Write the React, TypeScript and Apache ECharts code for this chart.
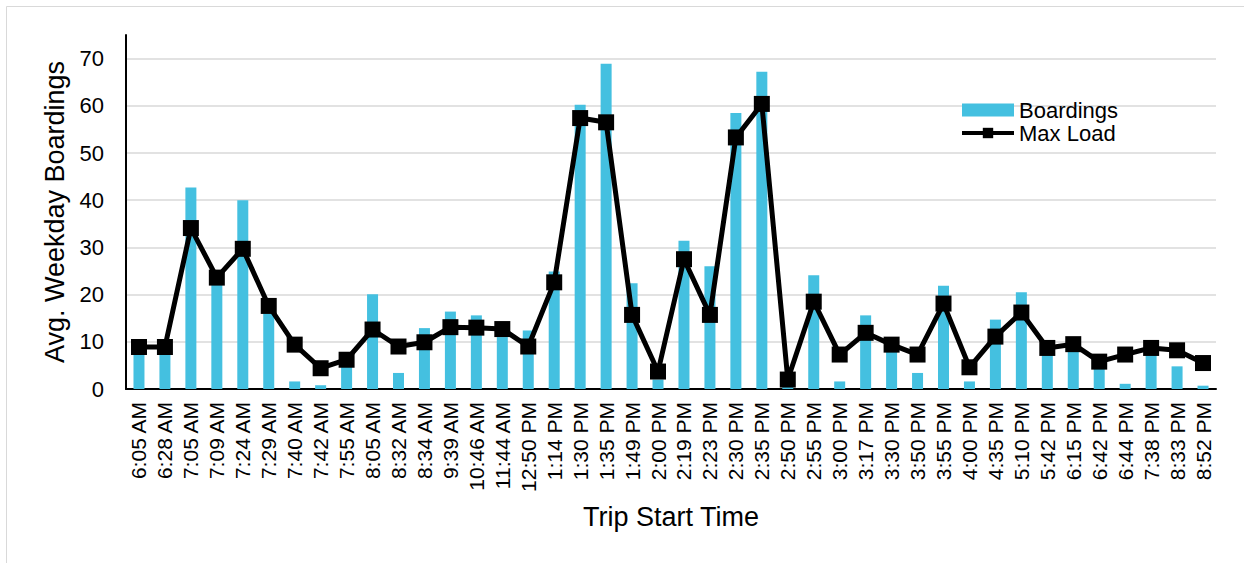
import React, { useEffect, useRef } from "react";
import * as echarts from "echarts";

const categories = [
  "6:05 AM", "6:28 AM", "7:05 AM", "7:09 AM", "7:24 AM", "7:29 AM", "7:40 AM", "7:42 AM",
  "7:55 AM", "8:05 AM", "8:32 AM", "8:34 AM", "9:39 AM", "10:46 AM", "11:44 AM", "12:50 PM",
  "1:14 PM", "1:30 PM", "1:35 PM", "1:49 PM", "2:00 PM", "2:19 PM", "2:23 PM", "2:30 PM",
  "2:35 PM", "2:50 PM", "2:55 PM", "3:00 PM", "3:17 PM", "3:30 PM", "3:50 PM", "3:55 PM",
  "4:00 PM", "4:35 PM", "5:10 PM", "5:42 PM", "6:15 PM", "6:42 PM", "6:44 PM", "7:38 PM",
  "8:33 PM", "8:52 PM",
];

const boardings = [
  7.5, 8, 42.7, 22.5, 40.0, 16, 1.6, 0.8, 5.5, 20.1, 3.4, 12.9, 16.4, 15.6, 11, 12.4,
  24.9, 60.2, 68.9, 22.4, 2, 31.4, 26.0, 58.5, 67.2, 1, 24.1, 1.6, 15.6, 8, 3.4, 21.9,
  1.6, 14.7, 20.5, 7.5, 8, 4.8, 1.1, 8, 4.8, 0.7,
];

const maxLoad = [
  8.9, 8.9, 34.1, 23.6, 29.7, 17.6, 9.4, 4.4, 6.2, 12.6, 9.0, 9.9, 13.1, 13.0, 12.7, 9.0,
  22.6, 57.4, 56.5, 15.7, 3.7, 27.5, 15.7, 53.3, 60.4, 2.0, 18.5, 7.3, 11.9, 9.4, 7.3, 18.1,
  4.6, 11.1, 16.2, 8.7, 9.5, 5.8, 7.3, 8.7, 8.2, 5.5,
];

const FONT = "'Liberation Sans', Arial, sans-serif";

export default function App() {
  const ref = useRef<HTMLDivElement>(null);
  useEffect(() => {
    document.body.style.margin = "0";
    const chart = echarts.init(ref.current!, undefined, { renderer: "svg" });
    chart.setOption({
      animation: false,
      backgroundColor: "#ffffff",
      textStyle: { fontFamily: FONT, color: "#000" },
      graphic: [
        {
          type: "rect",
          shape: { x: 6.5, y: 6.5, width: 1300, height: 600 },
          style: { fill: "none", stroke: "#d9d9d9", lineWidth: 1 },
          silent: true,
        },
      ],
      legend: {
        orient: "vertical",
        left: 960,
        top: 99,
        itemWidth: 52,
        itemHeight: 13,
        itemGap: 1,
        padding: 0,
        textStyle: { fontSize: 22, lineHeight: 22, color: "#000", fontFamily: FONT },
        data: [
          { name: "Boardings", icon: "rect" },
          { name: "Max Load", lineStyle: { width: 4, color: "#000" } },
        ],
      },
      grid: { left: 126, right: 28, top: 35, bottom: 174, containLabel: false },
      xAxis: {
        type: "category",
        data: categories,
        name: "Trip Start Time",
        nameLocation: "middle",
        nameGap: 114,
        nameTextStyle: { fontSize: 27, color: "#000", fontFamily: FONT },
        axisLine: { show: true, lineStyle: { color: "#000", width: 2 } },
        axisTick: { show: false },
        axisLabel: {
          interval: 0,
          rotate: 90,
          fontSize: 21,
          color: "#000",
          margin: 13,
          fontFamily: FONT,
        },
      },
      yAxis: {
        type: "value",
        min: 0,
        max: 75,
        interval: 10,
        name: "Avg. Weekday Boardings",
        nameLocation: "middle",
        nameGap: 52,
        nameTextStyle: { fontSize: 27, color: "#000", fontFamily: FONT },
        axisLine: { show: true, lineStyle: { color: "#000", width: 2 } },
        axisTick: { show: false },
        axisLabel: {
          fontSize: 22,
          color: "#000",
          margin: 22,
          showMaxLabel: false,
          fontFamily: FONT,
        },
        splitLine: {
          show: true,
          showMaxLine: false,
          lineStyle: { color: "#d9d9d9", width: 1.5 },
        },
      },
      series: [
        {
          name: "Boardings",
          type: "bar",
          data: boardings,
          barWidth: 11,
          itemStyle: { color: "#44C0E0" },
          z: 2,
        },
        {
          name: "Max Load",
          type: "line",
          data: maxLoad,
          symbol: "rect",
          symbolSize: 16,
          lineStyle: { color: "#000", width: 5 },
          itemStyle: { color: "#000" },
          z: 3,
        },
      ],
    });
    return () => chart.dispose();
  }, []);
  return <div ref={ref} style={{ width: 1244, height: 563 }} />;
}
